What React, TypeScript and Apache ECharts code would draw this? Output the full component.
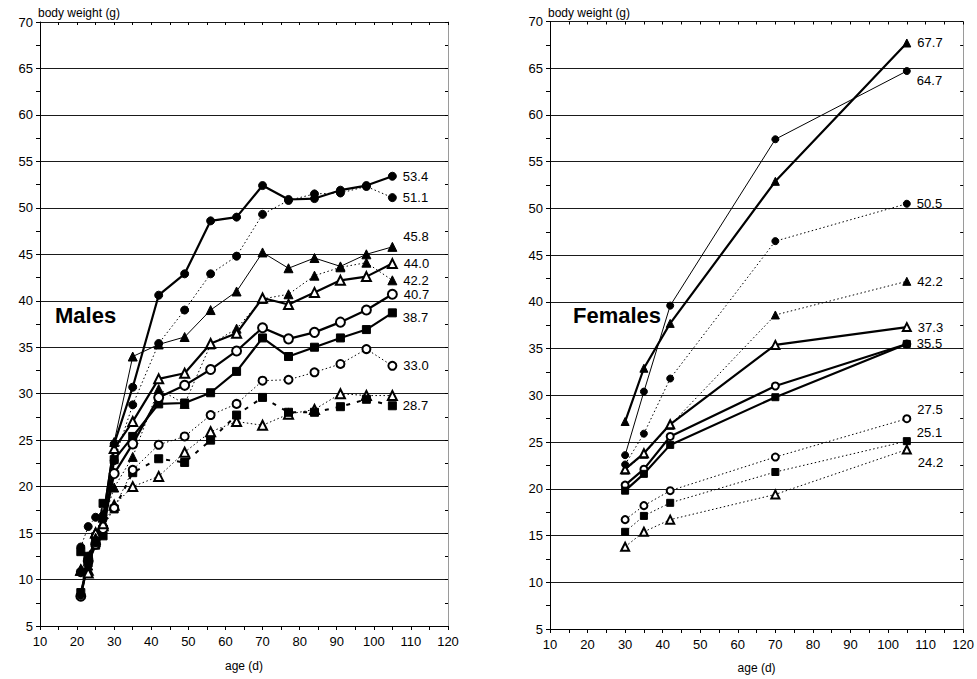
import React, { useEffect, useRef } from "react";
import * as echarts from "echarts";

// ---------- data ----------
const maleAges = [21, 23, 25, 27, 30, 35, 42, 49, 56, 63, 70, 77, 84, 91, 98, 105];
const femaleAges = [30, 35, 42, 70, 105];

// Males
const mCircleThick = [8.3, 12.0, 14.0, 16.5, 24.6, 30.7, 40.6, 42.9, 48.6, 49.0, 52.4, 50.9, 51.0, 51.9, 52.4, 53.4];
const mCircleDotted = [13.5, 15.7, 16.7, 16.9, 22.8, 28.8, 35.4, 39.0, 42.9, 44.8, 49.3, 50.8, 51.5, 51.6, 52.3, 51.1];
const mTriThin = [11.0, 12.5, 14.5, 17.0, 24.8, 34.0, 35.3, 36.1, 39.0, 41.0, 45.2, 43.5, 44.6, 43.7, 45.0, 45.8];
const mOpenTriThick = [11.0, 10.7, 15.0, 16.0, 24.1, 27.0, 31.6, 32.2, 35.4, 36.5, 40.3, 39.6, 40.9, 42.2, 42.6, 44.0];
const mTriDotted = [11.0, 11.5, 14.0, 16.2, 19.9, 23.2, 30.5, 28.9, 35.3, 37.0, 40.2, 40.7, 42.7, 43.6, 44.1, 42.2];
const mOpenCircleThick = [8.2, 12.0, 13.8, 15.5, 21.4, 24.6, 29.6, 30.9, 32.6, 34.6, 37.1, 35.9, 36.6, 37.7, 39.0, 40.7];
const mSquareThick = [8.6, 11.8, 13.7, 14.7, 22.9, 25.4, 28.9, 29.0, 30.1, 32.4, 36.0, 34.0, 35.0, 36.0, 36.9, 38.7];
const mOpenCircleDotted = [10.8, 12.3, 14.6, 15.6, 17.7, 21.8, 24.5, 25.4, 27.7, 28.9, 31.4, 31.5, 32.3, 33.2, 34.8, 33.0];
const mSquareDashed = [13.0, 12.5, 14.6, 18.2, 17.6, 21.5, 23.0, 22.6, 25.0, 27.7, 29.6, 28.0, 28.0, 28.6, 29.4, 28.7];
const mOpenTriDotted = [11.0, 11.0, 15.0, 15.8, 18.0, 20.0, 21.1, 23.7, 25.9, 27.0, 26.6, 27.8, 28.3, 30.0, 29.8, 29.8];

// Females
const fTriThick = [27.2, 32.9, 37.7, 52.9, 67.7];
const fCircleThin = [23.6, 30.4, 39.6, 57.4, 64.7];
const fCircleDotted = [22.6, 25.9, 31.8, 46.5, 50.5];
const fTriDotted = [22.0, 23.7, 26.8, 38.6, 42.2];
const fOpenTriThick = [22.1, 23.8, 26.9, 35.4, 37.3];
const fOpenCircleThick = [20.4, 22.1, 25.6, 31.0, 35.5];
const fSquareThick = [19.8, 21.6, 24.7, 29.8, 35.5];
const fOpenCircleDotted = [16.7, 18.2, 19.8, 23.4, 27.5];
const fSquareDotted = [15.4, 17.1, 18.5, 21.8, 25.1];
const fOpenTriDotted = [13.8, 15.4, 16.7, 19.4, 24.2];

const xMin = 10, xMax = 120, xStep = 10;
const yMin = 5, yMax = 70, yStep = 5;

// ---------- styles ----------
const FONT = "'Liberation Sans', Arial, sans-serif";
const THICK = { width: 2.2, type: "solid" as const };
const THIN = { width: 1, type: "solid" as const };
const DOT = { width: 1, type: [1.5, 2.5] as any };
const DASH = { width: 2, type: [4, 7] as any };

function mk(
  grid: number,
  ages: number[],
  vals: number[],
  symbol: string,
  size: number,
  line: any,
  label: boolean,
  dy = 0
) {
  const last = vals.length - 1;
  return {
    type: "line",
    xAxisIndex: grid * 2,
    yAxisIndex: grid * 3,
    symbol,
    symbolSize: size,
    showAllSymbol: true,
    lineStyle: { color: "#000", ...line },
    itemStyle: { color: "#000", borderColor: "#000", borderWidth: 1 },
    emphasis: { disabled: true },
    z: 3,
    data: ages.map((a, i) => {
      const item: any = { value: [a, vals[i]] };
      if (label && i === last) {
        item.label = {
          show: true,
          position: "right",
          distance: 6,
          offset: [0, dy],
          formatter: vals[i].toFixed(1),
          fontSize: 13,
          color: "#000",
          fontFamily: FONT,
        };
      }
      return item;
    }),
  };
}

function axesFor(grid: number) {
  const xMain = {
    gridIndex: grid,
    type: "value",
    min: xMin,
    max: xMax,
    interval: xStep,
    name: "age (d)",
    nameLocation: "middle",
    nameGap: grid === 0 ? 34 : 33,
    nameTextStyle: { fontSize: 12, color: "#000", fontFamily: FONT },
    axisLine: { show: true, lineStyle: { color: "#000", width: 1 } },
    axisTick: { show: true, length: 4, lineStyle: { color: "#000" } },
    minorTick: { show: true, splitNumber: 2, length: 4, lineStyle: { color: "#000" } },
    axisLabel: { fontSize: 13, color: "#000", margin: 9, fontFamily: FONT },
    splitLine: { show: false },
  };
  const xInner = {
    gridIndex: grid,
    type: "value",
    min: xMin,
    max: xMax,
    interval: xStep,
    axisLine: { show: false },
    axisTick: { show: true, inside: true, length: 3, lineStyle: { color: "#000" } },
    minorTick: { show: true, splitNumber: 2, length: 3, lineStyle: { color: "#000" } },
    axisLabel: { show: false },
    splitLine: { show: false },
  };
  const yMain = {
    gridIndex: grid,
    type: "value",
    min: yMin,
    max: yMax,
    interval: yStep,
    name: "body weight (g)",
    nameLocation: "end",
    nameGap: 3,
    nameTextStyle: {
      fontSize: 12,
      color: "#000",
      fontFamily: FONT,
      align: "left",
      verticalAlign: "bottom",
      padding: [0, 0, 0, -2],
    },
    axisLine: { show: true, lineStyle: { color: "#000", width: 1 } },
    axisTick: { show: true, length: 4, lineStyle: { color: "#000" } },
    minorTick: { show: true, splitNumber: 2, length: 4, lineStyle: { color: "#000" } },
    axisLabel: { fontSize: 13, color: "#000", margin: 7, fontFamily: FONT },
    splitLine: { show: true, lineStyle: { color: "#1a1a1a", width: 1 } },
  };
  const yInner = {
    gridIndex: grid,
    type: "value",
    min: yMin,
    max: yMax,
    interval: yStep,
    axisLine: { show: false },
    axisTick: { show: true, inside: true, length: 3, lineStyle: { color: "#000" } },
    minorTick: { show: true, splitNumber: 2, length: 3, lineStyle: { color: "#000" } },
    axisLabel: { show: false },
    splitLine: { show: false },
  };
  const yRight = {
    gridIndex: grid,
    type: "value",
    position: "right",
    min: yMin,
    max: yMax,
    interval: yStep,
    axisLine: { show: true, lineStyle: { color: "#9a9a9a", width: 1 } },
    axisTick: { show: false },
    axisLabel: { show: false },
    splitLine: { show: false },
  };
  return { x: [xMain, xInner], y: [yMain, yInner, yRight] };
}

export default function App() {
  const ref = useRef<HTMLDivElement>(null);
  useEffect(() => {
    if (!ref.current) return;
    const chart = echarts.init(ref.current, undefined, { renderer: "svg" });
    const a0 = axesFor(0);
    const a1 = axesFor(1);
    const M = maleAges;
    const F = femaleAges;
    const series = [
      // Males
      mk(0, M, mOpenTriDotted, "emptyTriangle", 9, DOT, false),
      mk(0, M, mSquareDashed, "rect", 8, DASH, true, 0),
      mk(0, M, mOpenCircleDotted, "emptyCircle", 8, DOT, true, 0),
      mk(0, M, mSquareThick, "rect", 8, THICK, true, 5),
      mk(0, M, mOpenCircleThick, "emptyCircle", 9, THICK, true, 0),
      mk(0, M, mTriDotted, "triangle", 9, DOT, true, 0),
      mk(0, M, mOpenTriThick, "emptyTriangle", 9, THICK, true, 0),
      mk(0, M, mTriThin, "triangle", 9, THIN, true, -10),
      mk(0, M, mCircleDotted, "circle", 8, DOT, true, 0),
      mk(0, M, mCircleThick, "circle", 8, THICK, true, 0),
      // Females
      mk(1, F, fOpenTriDotted, "emptyTriangle", 8, DOT, true, 13),
      mk(1, F, fSquareDotted, "rect", 7, DOT, true, -9),
      mk(1, F, fOpenCircleDotted, "emptyCircle", 7, DOT, true, -9),
      mk(1, F, fOpenCircleThick, "emptyCircle", 7, THICK, false),
      mk(1, F, fSquareThick, "rect", 7, THICK, true, 0),
      mk(1, F, fTriDotted, "triangle", 8, DOT, true, 0),
      mk(1, F, fOpenTriThick, "emptyTriangle", 8, THICK, true, 0),
      mk(1, F, fCircleDotted, "circle", 7, DOT, true, 0),
      mk(1, F, fCircleThin, "circle", 7, THIN, true, 9),
      mk(1, F, fTriThick, "triangle", 8, THICK, true, 0),
    ];
    chart.setOption({
      animation: false,
      backgroundColor: "#fff",
      textStyle: { fontFamily: FONT },
      grid: [
        { left: 40, top: 22, width: 408, height: 604 },
        { left: 550, top: 21.5, width: 414, height: 612.5 },
      ],
      xAxis: [...a0.x, ...a1.x],
      yAxis: [...a0.y, ...a1.y],
      series,
      graphic: [
        {
          type: "text",
          left: 55,
          top: 304,
          style: { text: "Males", font: `bold 22px ${FONT}`, fill: "#000" },
          z: 10,
        },
        {
          type: "text",
          left: 573,
          top: 304,
          style: { text: "Females", font: `bold 22px ${FONT}`, fill: "#000" },
          z: 10,
        },
      ],
    });
    return () => chart.dispose();
  }, []);
  return (
    <div
      ref={ref}
      style={{ position: "absolute", left: 0, top: 0, width: 977, height: 679, background: "#fff" }}
    />
  );
}
